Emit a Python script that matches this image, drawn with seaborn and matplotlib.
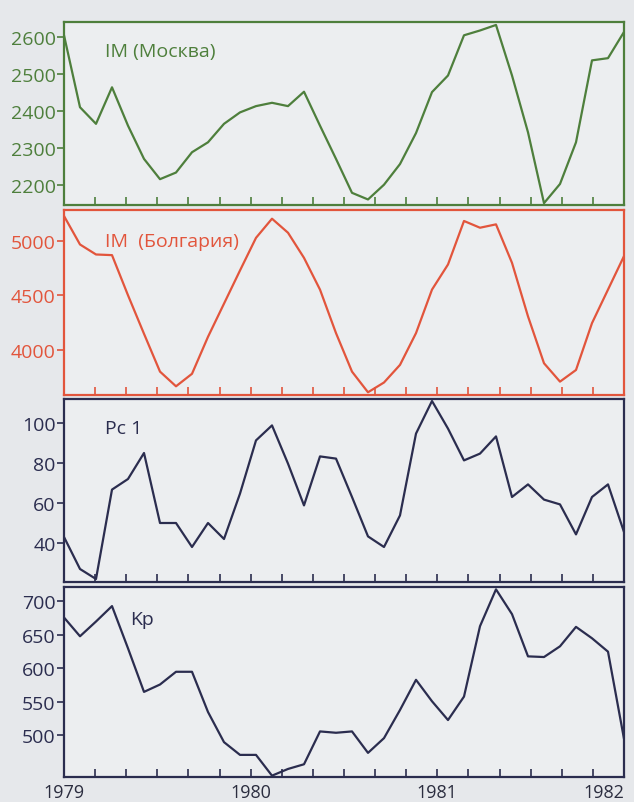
import numpy as np
import matplotlib
matplotlib.use('Agg')
import matplotlib.pyplot as plt
import matplotlib.transforms as mtransforms
import seaborn as sns

# monthly values, Jan 1979 .. Dec 1981
months = np.arange(36)

im_moscow = [2605, 2410, 2365, 2464, 2360, 2270, 2215, 2233, 2288, 2315,
             2365, 2396, 2413, 2422, 2413, 2452, 2360, 2270, 2178, 2160,
             2200, 2256, 2340, 2451, 2496, 2605, 2618, 2633, 2496, 2342,
             2150, 2202, 2315, 2537, 2543, 2614]

im_bulgaria = [5231, 4969, 4877, 4871, 4502, 4148, 3800, 3665, 3780, 4120,
               4425, 4730, 5030, 5206, 5077, 4846, 4554, 4154, 3800, 3610,
               3700, 3862, 4154, 4554, 4785, 5185, 5123, 5154, 4800, 4308,
               3877, 3708, 3815, 4246, 4554, 4862]

pc1 = [43, 27, 22, 66.7, 72, 85, 50, 50, 38, 50,
       42, 64.7, 91.3, 98.8, 79.7, 58.8, 83.3, 82.2, 63, 43.3,
       38, 53.8, 94.7, 111, 97.2, 81.3, 84.7, 93.3, 63, 69.3,
       61.7, 59.3, 44.3, 63, 69.3, 45.5]

kp = [676, 648, 670, 693, 630, 565, 576, 595, 595, 535,
      490, 471, 471, 440, 450, 457, 506, 504, 506, 474,
      496, 538, 583, 551, 523, 558, 663, 718, 681, 618,
      617, 633, 662, 645, 625, 495]

labels = ['IM (Москва)', 'IM  (Болгария)', 'Pc 1', 'Kp']
year_labels = ['1979', '1980', '1981', '1982']

series = [im_moscow, im_bulgaria, pc1, kp]
colors = ['#4e7f3c', '#e2553c', '#2b2d4f', '#2b2d4f']
yticks = [[2200, 2300, 2400, 2500, 2600], [4000, 4500, 5000],
          [40, 60, 80, 100], [500, 550, 600, 650, 700]]
ylims = [(2145, 2641), (3585, 5286), (20.5, 112), (438, 721.5)]

sns.set_style('ticks')
plt.rcParams['font.family'] = ['Open Sans', 'DejaVu Sans']

fig = plt.figure(figsize=(6.34, 8.03), dpi=100)
fig.patch.set_facecolor('#e6e8eb')

W, H = 634, 803
# (top, bottom) of each panel in pixels
boxes = [(23, 206), (211, 396), (400, 583), (588, 778)]
text_pos = [(0.073, 0.843), (0.073, 0.834), (0.073, 0.842), (0.118, 0.832)]
x_left, x_right = 64, 624

xt = np.linspace(0, 35, 19)
xt_labels = [''] * 19
for k, lab in enumerate(year_labels):
    xt_labels[k * 6] = lab

for i in range(4):
    top, bot = boxes[i]
    ax = fig.add_axes([x_left / W, 1 - bot / H, (x_right - x_left) / W, (bot - top) / H])
    ax.set_facecolor('#eceef0')
    c = colors[i]
    sns.lineplot(x=months, y=series[i], ax=ax, color=c, linewidth=1.6)
    ax.set_xlim(0, 35)
    ax.set_ylim(*ylims[i])
    ax.set_yticks(yticks[i])
    ax.set_xticks(xt)
    if i == 3:
        ax.set_xticklabels(xt_labels, fontsize=13, color='#2b2d3f')
        last = ax.get_xticklabels()[-1]
        last.set_horizontalalignment('right')
        last.set_transform(last.get_transform() +
                           mtransforms.ScaledTranslation(8 / 100, 0, fig.dpi_scale_trans))
    else:
        ax.set_xticklabels([])
    ax.tick_params(axis='x', direction='in', length=6, width=1.2, color=c, pad=4)
    ax.tick_params(axis='y', direction='out', length=5, width=1.2, color=c,
                   labelsize=14, labelcolor=c, pad=1)
    for sp in ax.spines.values():
        sp.set_visible(True)
        sp.set_color(c)
        sp.set_linewidth(1.6)
    ax.text(text_pos[i][0], text_pos[i][1], labels[i], transform=ax.transAxes,
            fontsize=14, color=c, va='center', ha='left')

plt.savefig('out.png', dpi=100, facecolor=fig.get_facecolor())
